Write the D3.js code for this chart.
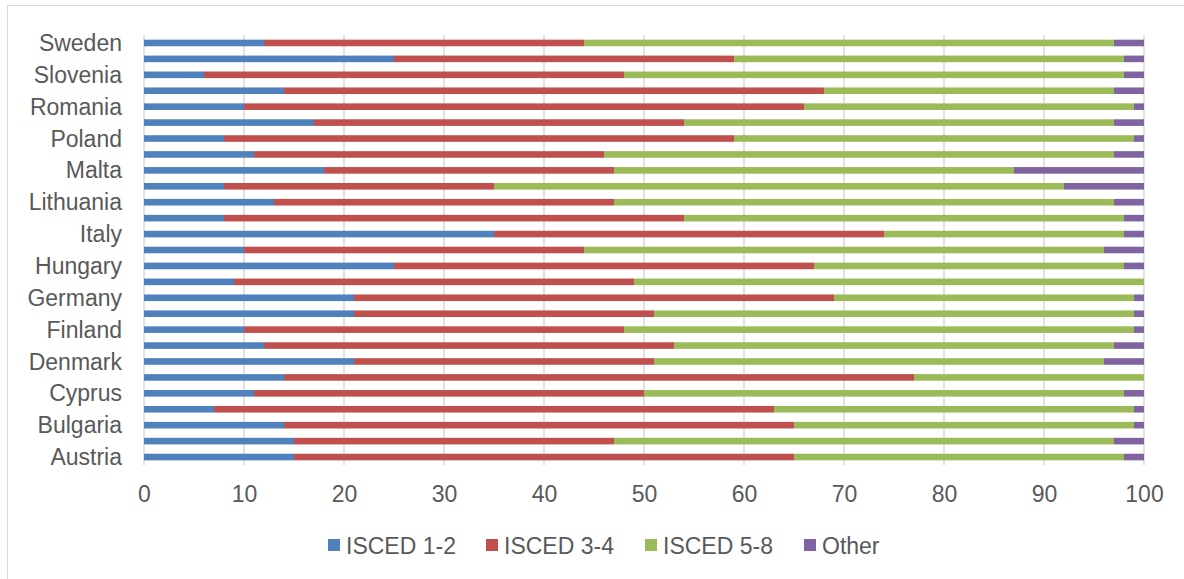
<!DOCTYPE html>
<html>
<head>
<meta charset="utf-8">
<script src="https://cdn.jsdelivr.net/npm/d3@7"></script>
<style>
  html, body { margin: 0; padding: 0; background: #ffffff; }
  svg { display: block; }
  text { font-family: "Liberation Sans", Arial, sans-serif; fill: #595959; }
</style>
</head>
<body>
<svg id="chart" width="1184" height="579"></svg>
<script>
// Countries, bottom to top
const countries = ["Austria","Belgium","Bulgaria","Croatia","Cyprus","Czechia","Denmark","Estonia","Finland","France","Germany","Greece","Hungary","Ireland","Italy","Latvia","Lithuania","Luxembourg","Malta","Netherlands","Poland","Portugal","Romania","Slovakia","Slovenia","Spain","Sweden"];
// Shown every other category
const shownLabels = ["Austria","Bulgaria","Cyprus","Denmark","Finland","Germany","Hungary","Italy","Lithuania","Malta","Poland","Romania","Slovenia","Sweden"];
const seriesNames = ["ISCED 1-2","ISCED 3-4","ISCED 5-8","Other"];
const seriesColors = ["#4F81BD","#C0504D","#9BBB59","#8064A2"];
const isced12 = [15,15,14,7,11,14,21,12,10,21,21,9,25,10,35,8,13,8,18,11,8,17,10,14,6,25,12];
const isced34 = [50,32,51,56,39,63,30,41,38,30,48,40,42,34,39,46,34,27,29,35,51,37,56,54,42,34,32];
const isced58 = [33,50,34,36,48,23,45,44,51,48,30,51,31,52,24,44,50,57,40,51,40,43,33,29,50,39,53];
const other   = [2,3,1,1,2,0,4,3,1,1,1,0,2,4,2,2,3,8,13,3,1,3,1,3,2,2,3];
const xTicks = [0,10,20,30,40,50,60,70,80,90,100];

const svg = d3.select("#chart");

// outer border
svg.append("rect").attr("x",7.5).attr("y",5.5).attr("width",1200).attr("height",600)
  .attr("fill","none").attr("stroke","#d9d9d9").attr("stroke-width",1);

const x = d3.scaleLinear().domain([0,100]).range([144,1144]);
const y = d3.scaleBand().domain(countries).range([465,35]).paddingInner(0.58).paddingOuter(0.29);

// gridlines
svg.append("g").selectAll("line").data(xTicks).join("line")
  .attr("x1", d => x(d)).attr("x2", d => x(d))
  .attr("y1", 35).attr("y2", 465)
  .attr("stroke", "#d9d9d9").attr("stroke-width", 1.5);

// stacked data
const table = countries.map((c,i) => ({country:c, "ISCED 1-2":isced12[i], "ISCED 3-4":isced34[i], "ISCED 5-8":isced58[i], "Other":other[i]}));
const stacked = d3.stack().keys(seriesNames)(table);

const step = y.step();
const barH = 6.6;
svg.append("g").selectAll("g").data(stacked).join("g")
  .attr("fill", (d,i) => seriesColors[i])
  .selectAll("rect").data(d => d).join("rect")
  .attr("x", d => x(d[0]))
  .attr("width", d => Math.max(0, x(d[1]) - x(d[0])))
  .attr("y", d => y(d.data.country) + y.bandwidth()/2 - barH/2)
  .attr("height", barH);

// x axis tick labels
const xAxis = d3.axisBottom(x).tickValues(xTicks).tickSize(0).tickPadding(0).tickFormat(d3.format("d"));
const gx = svg.append("g").attr("transform","translate(0,486)").call(xAxis);
gx.select(".domain").remove();
gx.selectAll("text").attr("font-size", 23).attr("dy","0.71em")
  .style("font-family","'Liberation Sans', Arial, sans-serif").attr("fill","#595959");

// y axis labels
const yAxis = d3.axisLeft(y).tickSize(0).tickPadding(22).tickFormat(d => shownLabels.includes(d) ? d : "");
const gy = svg.append("g").attr("transform","translate(144,0)").call(yAxis);
gy.select(".domain").remove();
gy.selectAll("text").attr("font-size", 23).attr("dy","0.35em")
  .style("font-family","'Liberation Sans', Arial, sans-serif").attr("fill","#595959");

// legend
const legendX = [328, 486, 645, 804];
const lg = svg.append("g").selectAll("g").data(seriesNames).join("g")
  .attr("transform", (d,i) => `translate(${legendX[i]},539)`);
lg.append("rect").attr("width",12).attr("height",12).attr("fill",(d,i) => seriesColors[i]);
lg.append("text").attr("x",18).attr("y",15).attr("font-size",23).text(d => d);
</script>
</body>
</html>
